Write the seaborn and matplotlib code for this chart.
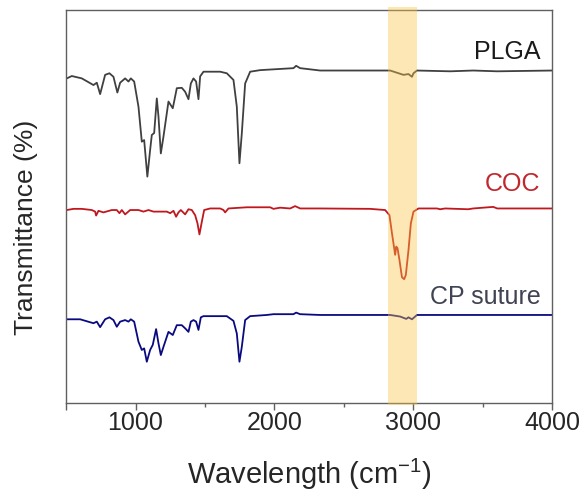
import numpy as np
import pandas as pd
import matplotlib.pyplot as plt
import matplotlib as mpl
import seaborn as sns
from matplotlib.patches import Rectangle
from matplotlib.ticker import MultipleLocator

# ---- spectra (wavenumber cm-1, stacked transmittance %) ----
plga_x = [505, 541, 613, 697, 721, 745, 781, 812, 841, 869, 889, 925, 949, 966, 990,
          1021, 1045, 1062, 1085, 1105, 1117, 1134, 1153, 1165, 1182, 1201, 1237, 1268,
          1297, 1333, 1357, 1381, 1398, 1417, 1436, 1453, 1465, 1489, 1609, 1657, 1705,
          1729, 1748, 1765, 1789, 1825, 1897, 2137, 2156, 2185, 2329, 2833, 2929, 2965,
          2990, 3001, 3026, 3265, 3431, 3604, 4000]
plga_y = [82.6, 83.2, 82.6, 80.9, 81.5, 78.6, 83.5, 83.9, 83.0, 79.0, 81.5, 82.6, 81.8,
          82.6, 81.8, 75.4, 66.5, 66.9, 57.6, 64.4, 68.2, 68.7, 77.5, 72.9, 63.5, 67.8,
          76.7, 75.0, 80.1, 80.2, 79.2, 77.3, 81.3, 82.6, 81.8, 77.3, 83.1, 84.3, 84.3,
          83.9, 82.2, 75.4, 61.0, 68.6, 81.3, 84.3, 84.7, 85.2, 85.8, 85.2, 84.6, 84.6,
          83.5, 83.7, 83.0, 83.9, 84.6, 84.4, 84.6, 84.4, 84.6]

coc_x = [505, 553, 613, 685, 709, 716, 733, 769, 829, 865, 884, 901, 925, 961, 1021,
         1057, 1093, 1129, 1177, 1225, 1249, 1273, 1292, 1309, 1326, 1357, 1381, 1405,
         1429, 1446, 1460, 1477, 1494, 1537, 1609, 1633, 1645, 1669, 1801, 1969, 1993,
         2041, 2113, 2149, 2185, 2329, 2689, 2797, 2828, 2846, 2857, 2869, 2877, 2886,
         2900, 2918, 2934, 2946, 2965, 2982, 3001, 3037, 3170, 3193, 3229, 3395, 3431,
         3575, 3604, 4000]
coc_y = [49.1, 49.4, 49.4, 49.1, 48.7, 47.7, 48.9, 48.5, 49.1, 49.1, 48.3, 49.1, 48.0,
         49.1, 49.1, 48.7, 49.1, 48.7, 48.7, 48.7, 48.3, 48.9, 47.4, 48.5, 49.1, 48.0,
         49.3, 49.1, 47.8, 45.7, 42.9, 46.1, 49.1, 49.5, 49.5, 49.1, 48.5, 49.5, 49.8,
         49.8, 49.4, 49.7, 49.5, 50.1, 49.5, 49.5, 49.4, 49.1, 47.8, 43.2, 40.6, 37.7,
         39.8, 39.4, 36.4, 32.0, 31.5, 32.6, 38.9, 45.7, 48.7, 49.5, 49.5, 49.3, 49.5,
         49.3, 49.5, 49.9, 49.5, 49.5]

cp_x = [505, 601, 697, 721, 745, 781, 812, 841, 865, 889, 925, 949, 966, 990, 1021,
        1045, 1062, 1081, 1105, 1124, 1148, 1165, 1182, 1201, 1237, 1268, 1297, 1333,
        1357, 1381, 1398, 1417, 1436, 1453, 1470, 1489, 1657, 1705, 1729, 1748, 1765,
        1789, 1825, 1945, 1993, 2137, 2156, 2185, 2329, 2833, 2905, 2949, 2965, 2990,
        3026, 4000]
cp_y = [21.3, 21.3, 20.3, 20.7, 19.3, 21.3, 21.8, 21.1, 19.4, 20.7, 21.1, 20.7, 21.3,
        20.7, 15.6, 13.5, 13.9, 10.5, 13.5, 14.8, 18.8, 15.2, 12.2, 14.3, 18.1, 17.3,
        19.8, 19.8, 19.0, 18.1, 20.7, 21.1, 20.7, 18.6, 21.8, 22.1, 22.1, 20.9, 17.7,
        10.5, 14.3, 21.1, 22.1, 22.4, 22.6, 22.6, 23.0, 22.6, 22.4, 22.4, 22.0, 21.4,
        21.8, 21.3, 22.4, 22.4]

names = ['PLGA', 'COC', 'CP suture']
line_colors = ['#404040', '#C0181E', '#0A0A80']
label_colors = ['#1A1A1A', '#C0282D', '#404452']
label_y = [89.4, 55.8, 27.0]
band = (2820, 3025)

sns.set_style('ticks')
plt.rcParams['font.family'] = ['Liberation Sans', 'DejaVu Sans']

df = pd.concat([
    pd.DataFrame({'w': plga_x, 't': plga_y, 'sample': 'PLGA'}),
    pd.DataFrame({'w': coc_x, 't': coc_y, 'sample': 'COC'}),
    pd.DataFrame({'w': cp_x, 't': cp_y, 'sample': 'CP suture'}),
], ignore_index=True)

fig = plt.figure(figsize=(5.85, 5.0), dpi=100)
ax = fig.add_axes([0.113, 0.194, 0.831, 0.786])

sns.lineplot(data=df, x='w', y='t', hue='sample', hue_order=names,
             palette=line_colors, sort=False, estimator=None, lw=1.3,
             legend=False, ax=ax)
for ln in ax.lines:
    ln.set_solid_joinstyle('round')

# highlighted C-H band, drawn over the traces
ax.add_patch(Rectangle((band[0], -0.005), band[1] - band[0], 1.012,
                       transform=ax.get_xaxis_transform(), facecolor='#FAC546',
                       alpha=0.4, edgecolor='none', clip_on=False, zorder=3))

for name, yy, c in zip(names, label_y, label_colors):
    ax.text(3914, yy, name, ha='right', va='center', fontsize=18, color=c)

ax.set_xlim(500, 4000)
ax.set_ylim(0, 100)
ax.set_xticks([500, 1000, 2000, 3000, 4000])
ax.set_xticklabels(['', '1000', '2000', '3000', '4000'])
ax.xaxis.set_minor_locator(MultipleLocator(500))
ax.tick_params(axis='x', which='major', direction='out', length=5, width=1,
               color='#606060', labelsize=18, pad=0.5)
ax.tick_params(axis='x', which='minor', direction='out', length=3, width=1, color='#606060')
ax.set_yticks([])
for s in ax.spines.values():
    s.set_color('#606060')
    s.set_linewidth(1)

ax.set_xlabel('Wavelength (cm$^{\\mathregular{-1}}$)', fontsize=21, labelpad=16)
ax.set_ylabel('Transmittance (%)', fontsize=19)
ax.yaxis.set_label_coords(-0.058, 0.447)

fig.savefig('out.png', dpi=100)
